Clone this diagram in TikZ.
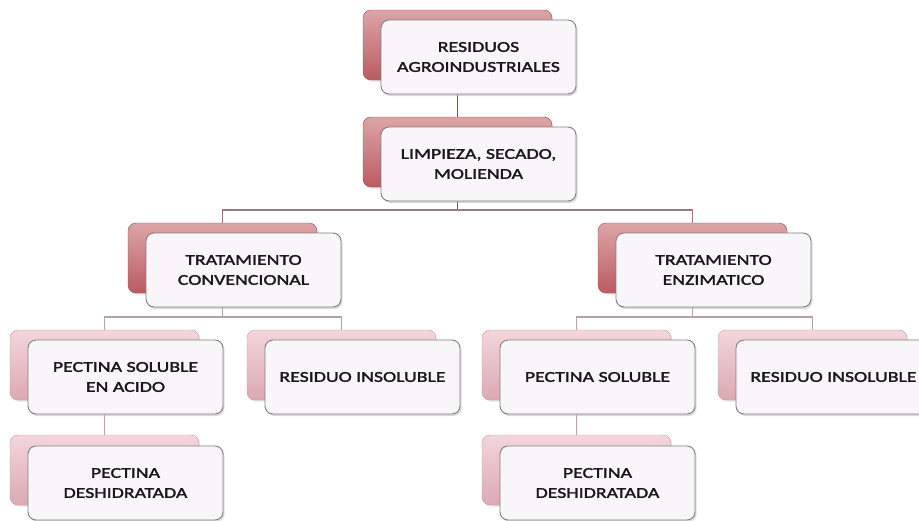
\documentclass[tikz,border=0pt]{standalone}
\usepackage{fontspec}
\setmainfont{Carlito}[FakeStretch=1.32,FakeBold=2]
\usetikzlibrary{shadows,backgrounds}
\definecolor{redtop}{HTML}{DCA4A7}
\definecolor{redbot}{HTML}{BA5C62}
\definecolor{rededge}{HTML}{A04B52}
\definecolor{pinktop}{HTML}{F3D6DB}
\definecolor{pinkbot}{HTML}{DCA9B2}
\definecolor{pinkedge}{HTML}{C99AA3}
\definecolor{frontfill}{HTML}{F9F6FA}
\definecolor{frontedge}{HTML}{7F7F7F}
\definecolor{linedark}{HTML}{8E4B50}
\definecolor{linemid}{HTML}{9C7A7F}
\definecolor{linelight}{HTML}{B7A3A7}
\tikzset{
  backcard/.style={rounded corners=8pt, minimum width=189pt, minimum height=70pt, inner sep=0pt,
    drop shadow={shadow xshift=1pt, shadow yshift=-1.5pt, fill=gray!40}},
  backred/.style={backcard, draw=rededge, top color=redtop, bottom color=redbot},
  backpink/.style={backcard, draw=pinkedge, top color=pinktop, bottom color=pinkbot},
  frontcard/.style={rounded corners=8pt, minimum width=195pt, minimum height=74pt, inner sep=0pt,
    draw=frontedge, line width=0.9pt, fill=frontfill, align=center, text=black!90,
    font=\fontsize{15}{20}\selectfont,
    drop shadow={shadow xshift=1.5pt, shadow yshift=-2pt, fill=gray!55}},
  conndark/.style={draw=linedark, line width=1.6pt},
  connmid/.style={draw=linemid, line width=1.5pt},
  connlight/.style={draw=linelight, line width=1.5pt}
}
\begin{document}
\begin{tikzpicture}[x=1pt,y=-1pt]
\useasboundingbox (0,0) rectangle (919,520);
% level 1
\node[backred] (res-b) at (457.5,45) {};
\node[frontcard] (res) at (478.5,57) {RESIDUOS\\AGROINDUSTRIALES};
% level 2
\node[backred] (lim-b) at (457.5,152) {};
\node[frontcard] (lim) at (478.5,164) {LIMPIEZA, SECADO,\\MOLIENDA};
% level 3
\node[backred] (conv-b) at (222.5,258) {};
\node[frontcard] (conv) at (243.5,270) {TRATAMIENTO\\CONVENCIONAL};
\node[backred] (enz-b) at (692.5,258) {};
\node[frontcard] (enz) at (713.5,270) {TRATAMIENTO\\ENZIMATICO};
% level 4
\node[backpink] (psa-b) at (104.5,365) {};
\node[frontcard] (psa) at (125.5,377) {PECTINA SOLUBLE\\EN ACIDO};
\node[backpink] (ri1-b) at (341.5,365) {};
\node[frontcard] (ri1) at (362.5,377) {RESIDUO INSOLUBLE};
\node[backpink] (ps-b) at (576.5,365) {};
\node[frontcard] (ps) at (597.5,377) {PECTINA SOLUBLE};
\node[backpink] (ri2-b) at (812.5,365) {};
\node[frontcard] (ri2) at (833.5,377) {RESIDUO INSOLUBLE};
% level 5
\node[backpink] (pd1-b) at (104.5,470) {};
\node[frontcard] (pd1) at (125.5,483) {PECTINA\\DESHIDRATADA};
\node[backpink] (pd2-b) at (576.5,470) {};
\node[frontcard] (pd2) at (597.5,483) {PECTINA\\DESHIDRATADA};
\coordinate (j1) at (457.5,210);
\coordinate (j2) at (222.5,317);
\coordinate (j3) at (692.5,317);
\begin{scope}[on background layer]
\fill[white] (0,0) rectangle (919,520);
\draw[conndark] (res-b.center |- res.south) -- (lim-b.north);
\draw[conndark] (lim-b.center |- lim.south) -- (j1);
\draw[connmid] (conv-b.north) |- (j1) -| (enz-b.north);
\draw[connlight] (conv-b.center |- conv.south) -- (j2);
\draw[connlight] (psa-b.north) |- (j2) -| (ri1-b.north);
\draw[connlight] (enz-b.center |- enz.south) -- (j3);
\draw[connlight] (ps-b.north) |- (j3) -| (ri2-b.north);
\draw[connlight] (psa-b.center |- psa.south) -- (pd1-b.north);
\draw[connlight] (ps-b.center |- ps.south) -- (pd2-b.north);
\end{scope}
\end{tikzpicture}
\end{document}
